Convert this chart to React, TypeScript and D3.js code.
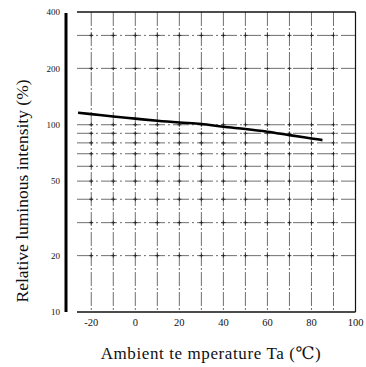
import React from "react";
import * as d3 from "d3";

const temps = [-26, -20, -10, 0, 10, 20, 30, 40, 50, 60, 70, 80, 85];
const intensity = [116, 114, 110.7, 107.8, 105, 102.8, 101, 97.5, 94.9, 91.8, 88, 84.5, 82.8];
const xTicks = [-20, 0, 20, 40, 60, 80, 100];
const xGrid = [-20, -10, 0, 10, 20, 30, 40, 50, 60, 70, 80, 90];
const yTicks = [400, 200, 100, 50, 20, 10];
const yGrid = [300, 200, 100, 90, 80, 70, 60, 50, 40, 30, 20];

export default function App() {
  const W = 366, H = 367;
  const x = d3.scaleLinear().domain([0, 100]).range([135.3, 355.5]);
  const y = d3.scaleLog().domain([10, 400]).range([312, 12]);
  const left = 77, right = 355.5, top = 12, bottom = 312;
  const line = d3.line<number>().x((_, i) => x(temps[i])).y((d) => y(d)).curve(d3.curveMonotoneX);
  const font = "'Liberation Serif', 'DejaVu Serif', serif";
  return (
    <svg width={W} height={H} style={{ position: "absolute", left: 0, top: 0, background: "#fff" }}>
      <rect width={W} height={H} fill="#fff" />
      {xGrid.map((t) => (
        <line key={"vx" + t} x1={x(t)} x2={x(t)} y1={top} y2={bottom} stroke="#555" strokeWidth={0.85} strokeDasharray="14 2 2 2" />
      ))}
      {yGrid.map((t) => (
        <line key={"hy" + t} x1={left} x2={right} y1={y(t)} y2={y(t)} stroke="#555" strokeWidth={0.85} strokeDasharray="16 3 2 3" />
      ))}
      {xGrid.map((tx) =>
        yGrid.map((ty) => (
          <g key={"c" + tx + "_" + ty} stroke="#222" strokeWidth={0.9}>
            <line x1={x(tx) - 2} x2={x(tx) + 2} y1={y(ty)} y2={y(ty)} />
            <line x1={x(tx)} x2={x(tx)} y1={y(ty) - 2} y2={y(ty) + 2} />
          </g>
        ))
      )}
      <line x1={left} x2={right} y1={top} y2={top} stroke="#111" strokeWidth={1.4} />
      <line x1={right} x2={right} y1={top} y2={bottom} stroke="#111" strokeWidth={1.2} />
      <line x1={left} x2={right} y1={bottom} y2={bottom} stroke="#111" strokeWidth={1.6} />
      <line x1={66} x2={66} y1={top + 1} y2={bottom} stroke="#000" strokeWidth={3} />
      <path d={line(intensity) || ""} fill="none" stroke="#000" strokeWidth={2.6} />
      {yTicks.map((t) => (
        <text key={"yt" + t} x={60} y={y(t)} dy="0.35em" textAnchor="end" fontFamily={font} fontSize={9} fill="#111">
          {t}
        </text>
      ))}
      {xTicks.map((t) => (
        <text key={"xt" + t} x={x(t)} y={326} textAnchor="middle" fontFamily={font} fontSize={10.5} fill="#111">
          {t}
        </text>
      ))}
      <text x={211} y={359} textAnchor="middle" fontFamily={font} fontSize={17} letterSpacing={0.6} fill="#111">
        Ambient te mperature Ta (℃)
      </text>
      <text transform="translate(28,191) rotate(-90)" textAnchor="middle" fontFamily={font} fontSize={17.5} fill="#111">
        Relative luminous intensity (%)
      </text>
    </svg>
  );
}
